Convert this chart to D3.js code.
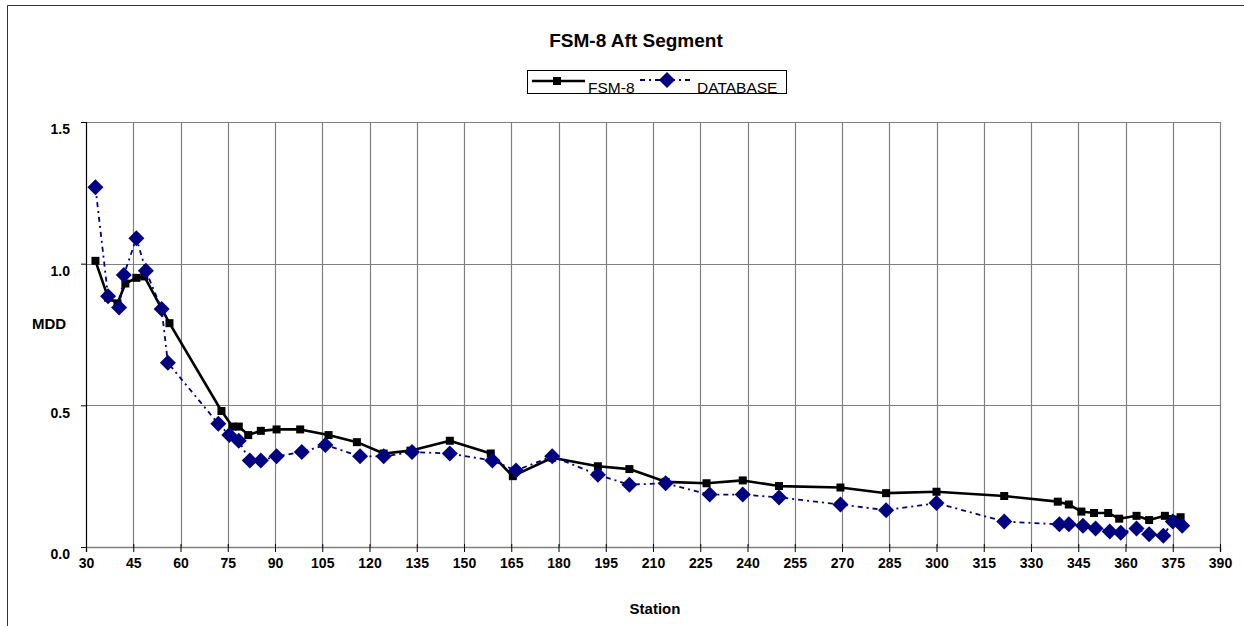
<!DOCTYPE html>
<html>
<head>
<meta charset="utf-8">
<script src="https://cdn.jsdelivr.net/npm/d3@7"></script>
<style>
  html, body { margin: 0; padding: 0; background: #fff; }
  svg { display: block; font-family: "Liberation Sans", Arial, sans-serif; }
</style>
</head>
<body>
<svg id="chart" width="1244" height="626"></svg>
<script>
const chartTitle = "FSM-8 Aft Segment";
const seriesNames = ["FSM-8", "DATABASE"];
const xTicks = [30,45,60,75,90,105,120,135,150,165,180,195,210,225,240,255,270,285,300,315,330,345,360,375,390];
const yTicks = [0.0, 0.5, 1.0, 1.5];

const fsmX = [33,37,40,42.5,46,48.5,56.5,73,76.5,78.5,81.5,85.5,90.5,98,107,116,124.5,133,145.5,158.5,165.5,178,192.5,202.5,214,227,238.5,250,269.5,284,300,321.5,338.5,342,346,350,354.5,358,363.5,367.5,372.5,377.5];
const fsmY = [1.01,0.88,0.86,0.93,0.95,0.955,0.79,0.48,0.425,0.425,0.395,0.41,0.415,0.415,0.395,0.37,0.33,0.34,0.375,0.33,0.25,0.315,0.285,0.275,0.23,0.225,0.235,0.215,0.21,0.19,0.195,0.18,0.16,0.15,0.125,0.12,0.12,0.10,0.11,0.095,0.11,0.105];

const dbX = [33,37,40.5,42,46,49,54,56,72,75.5,78.5,82,85.5,90.5,98.5,106,117,124.5,133.5,145.5,159,166.5,178,192.5,202.5,214,228,238.5,250,269.5,284,300,321.5,339,342,346.5,350.5,355,358.5,363.5,367.5,372,375,378];
const dbY = [1.27,0.885,0.845,0.96,1.09,0.975,0.84,0.65,0.435,0.395,0.375,0.305,0.305,0.32,0.335,0.36,0.32,0.32,0.335,0.33,0.305,0.27,0.32,0.255,0.22,0.225,0.185,0.185,0.175,0.15,0.13,0.155,0.09,0.08,0.08,0.075,0.065,0.055,0.05,0.065,0.045,0.04,0.09,0.075];

const svg = d3.select("#chart");
const W = 1244, H = 626;
const L = 86, R = 1220, T = 122, B = 547;

const x = d3.scaleLinear().domain([30, 390]).range([L, R]);
const y = d3.scaleLinear().domain([0, 1.5]).range([B, T]);

// outer frame (top and left edges)
svg.append("line").attr("x1", 7.5).attr("x2", W).attr("y1", 5.5).attr("y2", 5.5).attr("stroke", "#333").attr("stroke-width", 1);
svg.append("line").attr("x1", 7.5).attr("x2", 7.5).attr("y1", 5.5).attr("y2", H).attr("stroke", "#333").attr("stroke-width", 1);

// gridlines
const grid = svg.append("g");
grid.selectAll("line.v").data(xTicks.slice(1)).enter().append("line")
  .attr("x1", d => Math.round(x(d)) + 0.5).attr("x2", d => Math.round(x(d)) + 0.5)
  .attr("y1", T).attr("y2", B)
  .attr("stroke", "#808080").attr("stroke-width", 1.2);
grid.selectAll("line.h").data(yTicks.slice(1)).enter().append("line")
  .attr("x1", L).attr("x2", R)
  .attr("y1", d => Math.round(y(d)) + 0.5).attr("y2", d => Math.round(y(d)) + 0.5)
  .attr("stroke", "#808080").attr("stroke-width", 1.2);

// axes
const yAxis = svg.append("g").attr("transform", `translate(${L},0)`)
  .call(d3.axisLeft(y).tickValues(yTicks).tickFormat(d3.format(".1f")).tickSize(5).tickPadding(11));
yAxis.select(".domain").attr("stroke", "#000").attr("stroke-width", 1.2);
yAxis.selectAll(".tick line").attr("stroke", "#000");
yAxis.selectAll(".tick text").attr("font-size", 14).attr("font-weight", "bold")
  .attr("font-family", "Liberation Sans, Arial, sans-serif").attr("dy", "0.85em").attr("fill", "#000");

const xAxis = svg.append("g").attr("transform", `translate(0,${B})`)
  .call(d3.axisBottom(x).tickValues(xTicks).tickFormat(d3.format("d")).tickSize(5).tickPadding(6));
xAxis.select(".domain").attr("stroke", "#808080").attr("stroke-width", 1.6);
xAxis.selectAll(".tick line").attr("stroke", "#000").attr("y1", -3);
xAxis.selectAll(".tick text").attr("font-size", 14).attr("font-weight", "bold")
  .attr("font-family", "Liberation Sans, Arial, sans-serif").attr("fill", "#000");

// FSM-8 series
const fsm = fsmX.map((d, i) => [d, fsmY[i]]);
const db = dbX.map((d, i) => [d, dbY[i]]);
const line = d3.line().x(d => x(d[0])).y(d => y(d[1]));

svg.append("path").datum(fsm).attr("d", line)
  .attr("fill", "none").attr("stroke", "#000").attr("stroke-width", 2.6).attr("stroke-linejoin", "round");
svg.append("g").selectAll("rect").data(fsm).enter().append("rect")
  .attr("x", d => x(d[0]) - 4).attr("y", d => y(d[1]) - 4)
  .attr("width", 8).attr("height", 8).attr("fill", "#000");

// DATABASE series
svg.append("path").datum(db).attr("d", line)
  .attr("fill", "none").attr("stroke", "#000080").attr("stroke-width", 1.8)
  .attr("stroke-dasharray", "5,4,2,4");
const diamond = (cx, cy, r) => `M${cx},${cy - r}L${cx + r},${cy}L${cx},${cy + r}L${cx - r},${cy}Z`;
svg.append("g").selectAll("path").data(db).enter().append("path")
  .attr("d", d => diamond(x(d[0]), y(d[1]), 8))
  .attr("fill", "#000080");

// title
svg.append("text").attr("x", 636).attr("y", 47).attr("text-anchor", "middle")
  .attr("font-size", 19).attr("font-weight", "bold").attr("fill", "#000").text(chartTitle);

// axis titles
svg.append("text").attr("x", 49).attr("y", 329).attr("text-anchor", "middle")
  .attr("font-size", 15).attr("font-weight", "bold").attr("fill", "#000").text("MDD");
svg.append("text").attr("x", 655).attr("y", 614).attr("text-anchor", "middle")
  .attr("font-size", 15).attr("font-weight", "bold").attr("fill", "#000").text("Station");

// legend
const lg = svg.append("g");
lg.append("rect").attr("x", 527.5).attr("y", 70.5).attr("width", 259).attr("height", 23)
  .attr("fill", "#fff").attr("stroke", "#000").attr("stroke-width", 1);
lg.append("line").attr("x1", 532).attr("x2", 585).attr("y1", 81).attr("y2", 81)
  .attr("stroke", "#000").attr("stroke-width", 2.6);
lg.append("rect").attr("x", 553).attr("y", 77).attr("width", 8).attr("height", 8).attr("fill", "#000");
lg.append("text").attr("x", 588).attr("y", 93).attr("font-size", 15.5).attr("fill", "#000").text(seriesNames[0]);
lg.append("line").attr("x1", 640).attr("x2", 692).attr("y1", 80).attr("y2", 80)
  .attr("stroke", "#000080").attr("stroke-width", 2.2).attr("stroke-dasharray", "5,4,2,4");
lg.append("path").attr("d", diamond(667, 80, 8)).attr("fill", "#000080");
lg.append("text").attr("x", 697).attr("y", 93).attr("font-size", 15.5).attr("fill", "#000").text(seriesNames[1]);
</script>
</body>
</html>
